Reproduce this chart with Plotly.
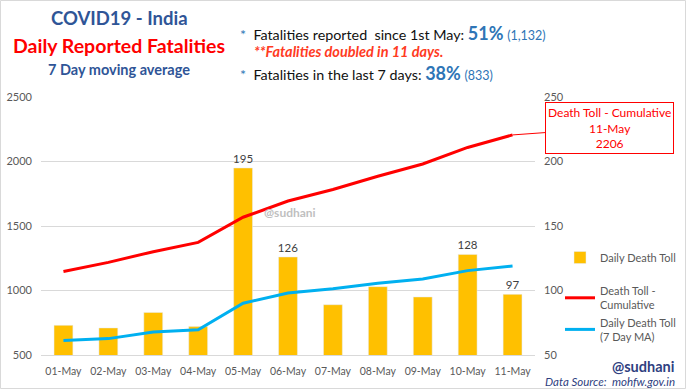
import plotly.graph_objects as go

dates = ["01-May", "02-May", "03-May", "04-May", "05-May", "06-May",
         "07-May", "08-May", "09-May", "10-May", "11-May"]
daily = [73, 71, 83, 72, 195, 126, 89, 103, 95, 128, 97]
cumulative = [1147, 1218, 1301, 1373, 1568, 1694, 1783, 1886, 1981, 2109, 2206]
ma7 = [61.3, 62.7, 67.9, 69.6, 90.1, 98.1, 101.3, 105.6, 109.0, 115.4, 119.0]
bar_labels = ["", "", "", "", "195", "126", "", "", "", "128", "97"]

W, H = 686, 389
L, R, T, B = 41, 151, 97, 34
PW, PH = W - L - R, H - T - B


def px(x):
    return (x - L) / PW


def py(y):
    return (H - B - y) / PH


FONT = "Lato"
GRAY = "#595959"

fig = go.Figure()
fig.add_trace(go.Bar(
    x=dates, y=daily, name="Daily Death Toll", yaxis="y", legendgroup="a",
    marker=dict(color="#FFC000"),
    text=bar_labels, textposition="outside", cliponaxis=False, constraintext="none",
    textfont=dict(size=11.5, color="#404040", family=FONT),
))
fig.add_trace(go.Scatter(
    x=dates, y=cumulative, name="Death Toll -<br>Cumulative", yaxis="y2", legendgroup="b",
    mode="lines", line=dict(color="#FF0000", width=3),
))
fig.add_trace(go.Scatter(
    x=dates, y=ma7, name="Daily Death Toll<br>(7 Day MA)", yaxis="y", legendgroup="b",
    mode="lines", line=dict(color="#00B0F0", width=3),
))


def txt(x, y, text, size, color, xanchor="center", **kw):
    return dict(xref="paper", yref="paper", x=px(x), y=py(y), text=text,
                xanchor=xanchor, yanchor="middle", showarrow=False,
                font=dict(family=FONT, size=size, color=color), **kw)


ann = []
ann.append(txt(119, 18, "<b>COVID19 - India</b>", 18.5, "#2F5597"))
ann.append(txt(119, 45, "<b>Daily Reported Fatalities</b>", 19.5, "#FF0000"))
ann.append(txt(119, 69, "<b>7 Day moving average</b>", 14.5, "#2F5597"))

blue = "#2E75B6"
line1 = ("<span style='color:%s'>*</span>  Fatalities reported  since 1st May: "
         "<b><span style='color:%s;font-size:18px'>51%%</span></b> "
         "<span style='color:%s;font-size:12.5px'>(1,132)</span>") % (blue, blue, blue)
line3 = ("<span style='color:%s'>*</span>  Fatalities in the last 7 days: "
         "<b><span style='color:%s;font-size:18px'>38%%</span></b> "
         "<span style='color:%s;font-size:12.5px'>(833)</span>") % (blue, blue, blue)
ann.append(txt(238, 33, line1, 14.3, "#111111", xanchor="left"))
ann.append(txt(252, 52, "<b><i>**Fatalities doubled in 11 days.</i></b>", 14.5, "#FF3B1F", xanchor="left"))
ann.append(txt(238, 73, line3, 14.3, "#111111", xanchor="left"))

ann.append(dict(xref="x", yref="y2", x=dates[-1], y=cumulative[-1],
                text="Death Toll - Cumulative<br>%s<br>%d" % (dates[-1], cumulative[-1]),
                showarrow=True, arrowhead=0, arrowwidth=1, arrowcolor="#FF0000",
                ax=97, ay=-7, bordercolor="#FF0000", borderwidth=1, borderpad=2,
                bgcolor="white", font=dict(family=FONT, size=12, color="#FF0000")))

ann.append(txt(290, 212, "<b>@sudhani</b>", 12, "#BFBFBF"))
ann.append(txt(676, 366, "<b>@sudhani</b>", 14.5, "#2F3F7F", xanchor="right"))
ann.append(txt(677, 381, "<i>Data Source:  mohfw.gov.in</i>", 11.5, "#2F3F7F", xanchor="right"))

shapes = [dict(type="rect", xref="paper", yref="paper",
               x0=px(0.5), x1=px(685.5), y0=py(388.5), y1=py(0.5),
               line=dict(color="#D9D9D9", width=1), fillcolor="rgba(0,0,0,0)", layer="below")]

fig.update_layout(
    width=W, height=H,
    margin=dict(l=L, r=R, t=T, b=B, pad=0, autoexpand=False),
    paper_bgcolor="white", plot_bgcolor="white",
    font=dict(family=FONT, size=11, color=GRAY),
    bargap=0.58,
    showlegend=True,
    legend=dict(x=px(560), y=py(243), xanchor="left", yanchor="top",
                font=dict(family=FONT, size=11, color=GRAY),
                bgcolor="rgba(0,0,0,0)", tracegroupgap=15, itemwidth=30),
    xaxis=dict(showgrid=False, showline=True, linecolor="#D9D9D9", linewidth=1,
               range=[-0.5, len(dates) - 0.5], autorange=False,
               ticks="", tickangle=0, automargin=False,
               tickfont=dict(size=10.5, color=GRAY), ticklabelstandoff=6),
    yaxis=dict(side="right", range=[50, 250], dtick=50, showgrid=False, zeroline=False,
               automargin=False, tickfont=dict(size=11, color=GRAY), ticklabelstandoff=8),
    yaxis2=dict(side="left", overlaying="y", range=[500, 2500], dtick=500,
                showgrid=True, gridcolor="#D9D9D9", zeroline=False, automargin=False,
                tickfont=dict(size=11, color=GRAY), ticklabelstandoff=8),
    annotations=ann,
    shapes=shapes,
)

fig.write_html("out.html", config={"displayModeBar": False},
               post_script="document.body.style.margin='0';document.body.style.overflow='hidden';")
